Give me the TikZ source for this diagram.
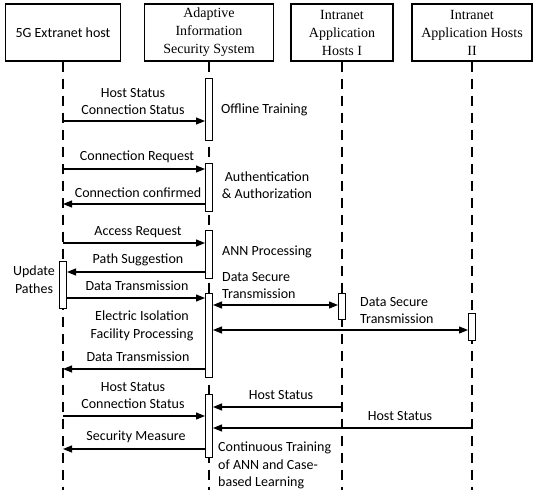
\documentclass[tikz,border=0pt]{standalone}
\usepackage{fontspec}
\setmainfont{Carlito}
\newfontfamily\hdrfont{Liberation Serif}
\usetikzlibrary{arrows.meta}
\begin{document}
\begin{tikzpicture}[x=1pt,y=-1pt,
  every node/.style={font=\fontsize{14}{17.5}\selectfont},
  hbox/.style={draw,line width=1.1pt,minimum height=57pt,inner sep=1pt,align=center},
  hdr/.style={font=\hdrfont\fontsize{14}{18}\selectfont},
  life/.style={line width=1.1pt,dash pattern=on 10pt off 7pt},
  act/.style={draw,fill=white,line width=1pt,minimum width=7pt,inner sep=0pt},
  msg/.style={line width=1.2pt,-{Triangle[length=9pt,width=7pt]}},
  bmsg/.style={line width=1.2pt,{Triangle[length=9pt,width=7pt]}-{Triangle[length=9pt,width=7pt]}},
  lbl/.style={inner sep=0pt,align=center},
]
\useasboundingbox (0,0) rectangle (536,490);
% headers
\node[hbox,minimum width=115pt] (h1) at (63,32.5) {5G Extranet host};
\node[hbox,hdr,minimum width=129pt] (h2) at (209,32.5) {Adaptive\\Information\\Security System};
\node[hbox,hdr,minimum width=102pt] (h3) at (342,32.5) {Intranet\\Application\\Hosts I};
\node[hbox,hdr,minimum width=120pt] (h4) at (472,32.5) {Intranet\\Application Hosts\\II};
% lifelines
\coordinate (e1) at (63,490);
\coordinate (e2) at (209,490);
\coordinate (e3) at (342,490);
\coordinate (e4) at (472,490);
\draw[life] (h1.south) -- (e1);
\draw[life] (h2.south) -- (e2);
\draw[life] (h3.south) -- (e3);
\draw[life] (h4.south) -- (e4);
% activation boxes
\node[act,minimum height=62pt] (a1) at (209,109) {};
\node[act,minimum height=48pt] (a2) at (209,187) {};
\node[act,minimum height=48pt] (a3) at (209,254) {};
\node[act,minimum height=84pt] (a4) at (209,335) {};
\node[act,minimum height=63pt] (a5) at (209,425.5) {};
\node[act,minimum height=47pt] (u1) at (63,284.5) {};
\node[act,minimum height=26pt] (b1) at (342,306) {};
\node[act,minimum height=27pt] (b2) at (472,326.5) {};
% messages
\coordinate (s1) at (63,121);
\coordinate (s2) at (63,169);
\coordinate (s3) at (63,204);
\coordinate (s4) at (63,243);
\coordinate (s5) at (63,272);
\coordinate (s6) at (63,298);
\coordinate (s7) at (342,305);
\coordinate (s8) at (472,330);
\coordinate (s9) at (63,369);
\coordinate (s10) at (63,416);
\coordinate (s11) at (342,407);
\coordinate (s12) at (472,428);
\coordinate (s13) at (63,449);
\draw[msg] (s1) -- (s1 -| a1.west);
\draw[msg] (s2) -- (s2 -| a2.west);
\draw[msg] (s3 -| a2.west) -- (s3);
\draw[msg] (s4) -- (s4 -| a3.west);
\draw[msg] (s5 -| a3.west) -- (s5 -| u1.east);
\draw[msg] (s6 -| u1.east) -- (s6 -| a4.west);
\draw[bmsg] (s7 -| a4.east) -- (s7 -| b1.west);
\draw[bmsg] (s8 -| a4.east) -- (s8 -| b2.west);
\draw[msg] (s9 -| a4.west) -- (s9);
\draw[msg] (s10) -- (s10 -| a5.west);
\draw[msg] (s11) -- (s11 -| a5.east);
\draw[msg] (s12) -- (s12 -| a5.east);
\draw[msg] (s13 -| a5.west) -- (s13);
% message labels
\node[lbl] (l1) at (133,101.5) {Host Status\\Connection Status};
\node[lbl] (l2) at (137,157) {Connection Request};
\node[lbl] (l3) at (138,193) {Connection confirmed};
\node[lbl] (l4) at (138,232) {Access Request};
\node[lbl] (l5) at (138,260) {Path Suggestion};
\node[lbl] (l6) at (137,286) {Data Transmission};
\node[lbl] (l7) at (142,326) {Electric Isolation\\Facility Processing};
\node[lbl] (l8) at (138,357) {Data Transmission};
\node[lbl] (l9) at (133,395.5) {Host Status\\Connection Status};
\node[lbl] (l10) at (281,395) {Host Status};
\node[lbl] (l11) at (400,416) {Host Status};
\node[lbl] (l12) at (136,437) {Security Measure};
% side labels
\node[lbl,anchor=west] (r1) at (221,110) {Offline Training};
\node[lbl] (r2) at (267,185) {Authentication\\\& Authorization};
\node[lbl,anchor=west] (r3) at (222,252) {ANN Processing};
\node[lbl,align=left,anchor=west] (r4) at (222,285.5) {Data Secure\\Transmission};
\node[lbl,align=left,anchor=west] (r5) at (360,310.5) {Data Secure\\Transmission};
\node[lbl] (r6) at (34,279.5) {Update\\Pathes};
\node[lbl,align=left,anchor=west] (r7) at (218,465.5) {Continuous Training\\of ANN and Case-\\based Learning};
\end{tikzpicture}
\end{document}
